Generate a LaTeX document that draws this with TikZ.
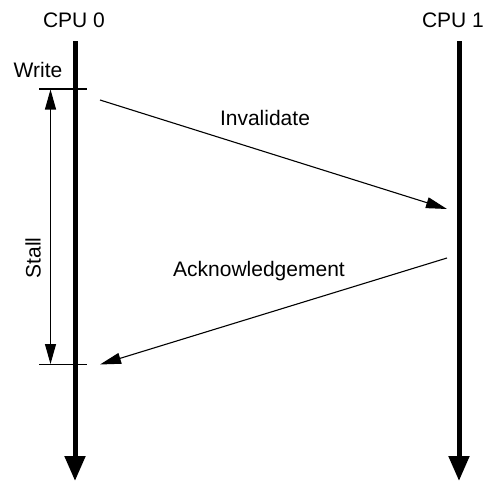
\documentclass[tikz,border=0pt]{standalone}
\usepackage{fontspec}
\setmainfont{Liberation Sans}
\usetikzlibrary{arrows.meta}
\begin{document}
\begin{tikzpicture}[x=1pt,y=-1pt,
  lbl/.style={inner sep=0pt,font=\fontsize{21}{25}\selectfont},
  timeline/.style={line width=5pt,-{Triangle[length=25pt,width=20pt]}},
  msg/.style={line width=1.1pt,-{Triangle[length=21pt,width=11pt]}},
  tick/.style={line width=1.1pt}]
\useasboundingbox (0,0) rectangle (488,482);
% timelines
\coordinate (c0top) at (75,41);
\coordinate (c0bot) at (75,481);
\coordinate (c1top) at (459,41);
\coordinate (c1bot) at (459,481);
\draw[timeline] (c0top) -- (c0bot);
\draw[timeline] (c1top) -- (c1bot);
\node[lbl] (cpu0) at (74,20) {CPU 0};
\node[lbl] (cpu1) at (453,20) {CPU 1};
\node[lbl] (write) at (38,70) {Write};
% ticks
\coordinate (t1a) at (39,89); \coordinate (t1b) at (87,89);
\coordinate (t2a) at (39,364.5); \coordinate (t2b) at (87,364.5);
\draw[tick] (t1a) -- (t1b);
\draw[tick] (t2a) -- (t2b);
% stall
\coordinate (s1) at (50.5,89.5);
\coordinate (s2) at (50.5,364);
\draw[line width=1.1pt,{Triangle[length=20pt,width=11pt]}-{Triangle[length=20pt,width=11pt]}] (s1) -- (s2);
\node[lbl,rotate=90] (stall) at (33,258) {Stall};
% messages
\coordinate (i1) at (100,100);
\coordinate (i2) at (447,209);
\draw[msg] (i1) -- (i2);
\node[lbl] (inval) at (265,118) {Invalidate};
\coordinate (a1) at (447,258);
\coordinate (a2) at (100,364.5);
\draw[msg] (a1) -- (a2);
\node[lbl] (ack) at (259,271) {Acknowledgement};
\end{tikzpicture}
\end{document}
